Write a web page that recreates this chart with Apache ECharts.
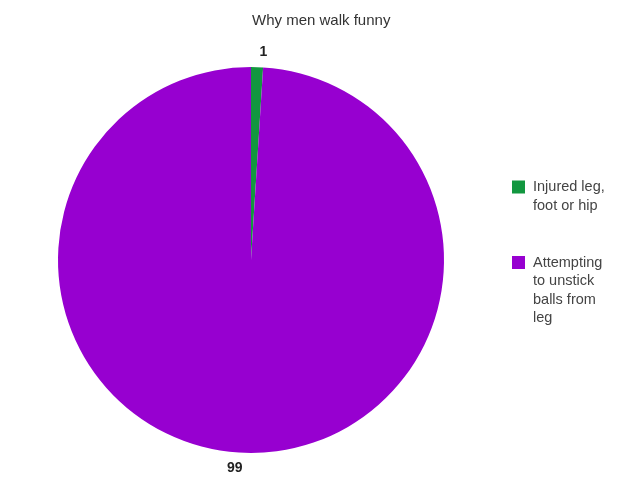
<!DOCTYPE html>
<html>
<head>
<meta charset="utf-8">
<script src="https://cdn.jsdelivr.net/npm/echarts@6/dist/echarts.min.js"></script>
<style>
html,body{margin:0;padding:0;background:#fff;}
#chart{width:640px;height:492px;}
</style>
</head>
<body>
<div id="chart"></div>
<script>
var titleText = 'Why men walk funny';
var categories = ['Injured leg, foot or hip', 'Attempting to unstick balls from leg'];
var legendLines = [['Injured leg,', 'foot or hip'], ['Attempting', 'to unstick', 'balls from', 'leg']];
var values = [1, 99];
var colors = ['#12973f', '#9700d0'];

var LH = 18.5;
var FONT = 'Liberation Sans, Arial, sans-serif';

var pieData = categories.map(function (c, i) {
  return { name: c, value: values[i], itemStyle: { color: colors[i] } };
});

function makeLegend(i, iconCenterY) {
  var n = legendLines[i].length;
  var h = (2 * n - 1) * LH;
  var lines = [];
  for (var k = 1; k < n; k++) lines.push('\u00a0');
  lines = lines.concat(legendLines[i]);
  return {
    orient: 'vertical',
    left: 512,
    top: iconCenterY - h / 2,
    padding: 0,
    icon: 'rect',
    itemWidth: 13,
    itemHeight: 13,
    itemGap: 0,
    selectedMode: false,
    data: [{ name: categories[i] }],
    formatter: function () { return lines.join('\n'); },
    textStyle: {
      fontFamily: FONT,
      fontSize: 14.5,
      color: '#444',
      lineHeight: LH,
      padding: [0, 0, 0, 3]
    }
  };
}

var chart = echarts.init(document.getElementById('chart'));
chart.setOption({
  backgroundColor: '#fff',
  animation: false,
  title: {
    text: titleText,
    left: 252,
    top: 13,
    padding: 0,
    textStyle: { fontFamily: FONT, fontSize: 15, fontWeight: 'normal', color: '#333' }
  },
  legend: [makeLegend(0, 187), makeLegend(1, 262.5)],
  series: [{
    type: 'pie',
    center: [251, 260],
    radius: 193,
    startAngle: 90,
    clockwise: true,
    data: pieData,
    itemStyle: { borderWidth: 0 },
    emphasis: { disabled: true },
    label: {
      show: true,
      position: 'outside',
      formatter: '{c}',
      fontFamily: FONT,
      fontSize: 14,
      fontWeight: 'bold',
      color: '#222',
      distanceToLabelLine: 2
    },
    labelLine: { show: false, length: 15, length2: 0 }
  }]
});
</script>
</body>
</html>
